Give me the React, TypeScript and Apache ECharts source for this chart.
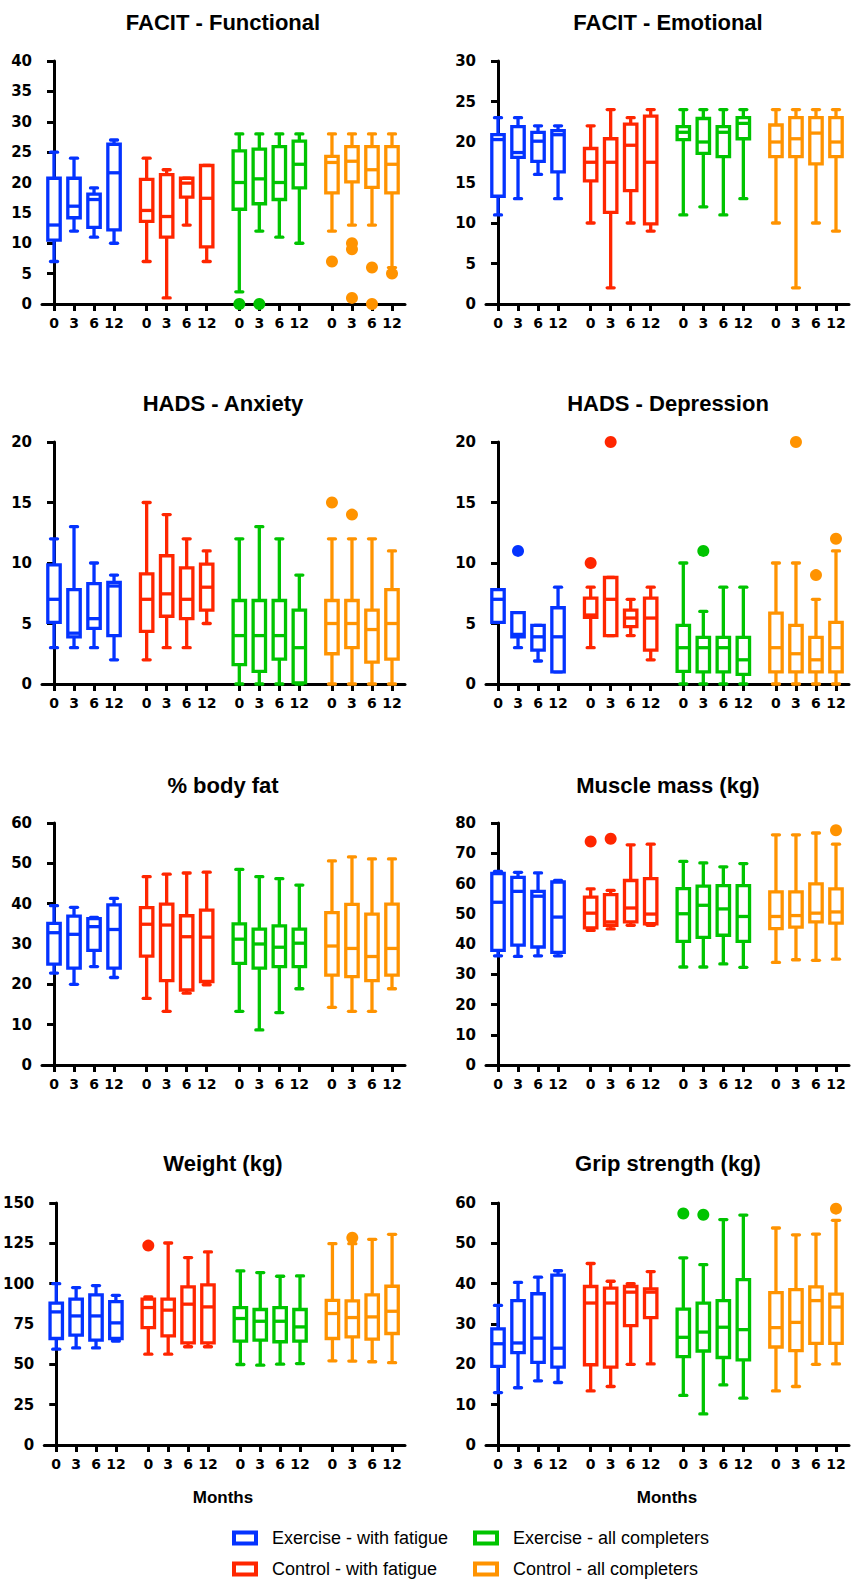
import React, { useEffect, useRef } from "react";
import * as echarts from "echarts";

// ---------- data ----------
const MONTHS = ["0", "3", "6", "12"];
const GROUPS = [
  "Exercise - with fatigue",
  "Control - with fatigue",
  "Exercise - all completers",
  "Control - all completers",
];
const COLORS = ["#0433ff", "#ff2600", "#00c400", "#ff9300"];

// each box: [min, q1, median, q3, max]; rows = groups, columns = months
const facitFunctional = [
  [[7, 10.5, 13, 20.7, 25], [12, 14.2, 16.1, 20.7, 24], [11, 12.6, 17.2, 18.1, 19.1], [10, 12.2, 21.6, 26.3, 27]],
  [[7, 13.6, 15.4, 20.5, 24], [1, 11, 14.4, 21.3, 22.1], [13, 17.6, 19.9, 20.7, 20.7], [7, 9.4, 17.4, 22.8, 22.8]],
  [[2, 15.6, 20, 25.2, 28], [12, 16.5, 20.6, 25.5, 28], [11, 17.2, 20, 25.9, 28], [10, 19.1, 23, 26.8, 28]],
  [[12, 18.3, 23.3, 24.3, 28], [13, 20.1, 23.5, 25.9, 28], [13, 19.2, 22.1, 25.9, 28], [6, 18.3, 23, 25.9, 28]],
];
// outliers: [group, month index, value]
const facitFunctionalOut = [[2, 0, 0], [2, 1, 0], [3, 0, 7], [3, 1, 10], [3, 1, 9], [3, 1, 1], [3, 2, 6], [3, 2, 0], [3, 3, 5]];

const facitEmotional = [
  [[11, 13.3, 20.3, 20.9, 23], [13, 18.1, 18.7, 21.9, 23], [16, 17.6, 20.1, 21.2, 22], [13, 16.3, 20.9, 21.4, 22]],
  [[10, 15.2, 17.5, 19.2, 22], [2, 11.3, 17.5, 20.4, 24], [10, 14, 19.6, 22.2, 23], [9, 9.9, 17.5, 23.2, 24]],
  [[11, 20.3, 21.2, 21.9, 24], [12, 18.6, 20, 22.9, 24], [11, 18.2, 21.2, 21.9, 24], [13, 20.4, 22.3, 23, 24]],
  [[10, 18.2, 20, 22.1, 24], [2, 18.2, 20.4, 23, 24], [10, 17.3, 21.1, 23, 24], [9, 18.2, 20, 23, 24]],
];
const facitEmotionalOut: number[][] = [];

const hadsAnxiety = [
  [[3, 5.1, 7, 9.85, 12], [3, 3.9, 4.2, 7.8, 13], [3, 4.6, 5.4, 8.3, 10], [2, 4, 8.1, 8.4, 9]],
  [[2, 4.35, 7, 9.1, 15], [3, 5.6, 7.45, 10.6, 14], [3, 5.4, 7, 9.6, 12], [5, 6.1, 8, 9.9, 11]],
  [[0, 1.6, 4, 6.9, 12], [0, 1.05, 4, 6.9, 13], [0, 2.06, 4, 6.9, 12], [0, 0.1, 3, 6.1, 9]],
  [[0, 2.5, 5, 6.9, 12], [0, 3, 5, 6.9, 12], [0, 1.8, 4.5, 6.1, 12], [0, 2.06, 5, 7.8, 11]],
];
const hadsAnxietyOut = [[3, 0, 15], [3, 1, 14]];

const hadsDepression = [
  [[5.1, 5.1, 7, 7.8, 7.8], [3, 3.9, 4.1, 5.9, 5.9], [1.9, 2.8, 3.9, 4.85, 4.85], [1, 1, 3.9, 6.3, 8]],
  [[3, 5.5, 5.7, 7.1, 8], [4, 4, 7, 8.8, 8.8], [4, 4.75, 5.45, 6.1, 7], [2, 2.8, 5.45, 7.1, 8]],
  [[0, 1.05, 3, 4.85, 10], [0, 1, 3, 3.85, 6], [0, 1, 3, 3.85, 8], [0, 0.8, 2, 3.85, 8]],
  [[0, 1, 3, 5.85, 10], [0, 1, 2.5, 4.85, 10], [0, 1, 2, 3.85, 7], [0, 1, 3, 5.1, 11]],
];
const hadsDepressionOut = [[0, 1, 11], [1, 0, 10], [1, 1, 20], [2, 1, 11], [3, 1, 20], [3, 2, 9], [3, 3, 12]];

const bodyFat = [
  [[22.8, 25, 32.8, 35.1, 39.5], [20, 24, 32.4, 36.9, 39.1], [24.4, 28.4, 34.3, 36.3, 36.6], [21.7, 24, 33.6, 39.7, 41.3]],
  [[16.5, 27, 34.9, 39, 46.7], [13.3, 20.9, 34.7, 39.9, 47.3], [17.8, 18.6, 31.8, 37, 47.6], [19.9, 20.7, 31.7, 38.4, 47.8]],
  [[13.3, 25.2, 31.2, 35, 48.5], [8.7, 24, 30, 33.7, 46.7], [13, 24.4, 29.2, 34.5, 46.2], [18.9, 24.4, 30.2, 33.7, 44.6]],
  [[14.3, 22.3, 29.5, 37.8, 50.6], [13.3, 21.9, 28.9, 39.8, 51.6], [13.3, 20.9, 26.9, 37.4, 51.1], [18.9, 22.3, 28.9, 39.9, 51.1]],
];
const bodyFatOut: number[][] = [];

const muscleMass = [
  [[36.1, 37.9, 53.8, 63.3, 64], [35.9, 39.6, 57.4, 62, 63.7], [36.1, 39, 55.8, 57.4, 63.5], [36.1, 37.2, 48.9, 60.5, 61]],
  [[44.5, 45.3, 50.2, 55.5, 58.2], [45, 46.2, 47.3, 56.3, 57.7], [46.2, 47.3, 51.9, 61, 72.8], [46.2, 46.7, 49.9, 61.6, 73]],
  [[32.4, 40.9, 50, 58.3, 67.3], [32.4, 42.2, 52.8, 59.1, 66.8], [33.4, 42.9, 51.6, 59.3, 65.5], [32.3, 40.9, 49.1, 59.3, 66.6]],
  [[33.9, 45.1, 49.1, 57.2, 76.1], [34.8, 45.6, 49.4, 57.2, 76.1], [34.6, 47.3, 50.2, 59.9, 76.7], [35, 46.9, 50.6, 58.2, 73]],
];
const muscleMassOut = [[1, 0, 73.9], [1, 1, 74.8], [3, 3, 77.6]];

const weight = [
  [[59.4, 66, 82.5, 87.9, 100], [60.2, 68.1, 80, 90.4, 97.6], [60.2, 65, 80, 93, 98.8], [64.4, 66, 75.7, 88.9, 92.8]],
  [[56.3, 72.8, 85.2, 90.4, 91.8], [56.3, 67.7, 83.6, 90.4, 125.2], [60.9, 63.3, 87.3, 98, 116.2], [60.9, 63.3, 85.6, 99.2, 119.7]],
  [[49.9, 64.4, 78.4, 85.2, 107.9], [49.5, 65, 76.7, 84, 106.9], [50.1, 64, 76.7, 85.2, 104.6], [50.5, 64.4, 73.2, 84, 104.8]],
  [[52.2, 66, 81.5, 89.7, 124.8], [52, 67, 79, 89.3, 124.8], [51.6, 65.6, 79.4, 93, 127.5], [51, 69.1, 82.9, 98.4, 130.6]],
];
const weightOut = [[1, 0, 123.6], [3, 1, 128.5]];

const gripStrength = [
  [[13, 19.5, 25.1, 28.8, 34.6], [14.2, 22.9, 25.3, 35.8, 40.3], [15.9, 20.5, 26.5, 37.5, 41.6], [15.5, 19.3, 24, 42.1, 43.2]],
  [[13.4, 19.9, 35.2, 39.3, 45], [14.5, 19.3, 35.2, 38.9, 40.6], [20, 29.6, 37.9, 39.3, 40], [20.1, 31.6, 37.9, 38.7, 43]],
  [[12.3, 21.9, 26.7, 33.7, 46.4], [7.7, 23.3, 28, 35.2, 44.7], [14.9, 21.7, 29.2, 35.8, 55.9], [11.6, 21.1, 28.6, 41, 57]],
  [[13.4, 24.3, 29.1, 37.8, 53.8], [14.5, 23.4, 30.4, 38.5, 52.1], [20, 25.2, 35.8, 39.2, 52.3], [20.1, 25.2, 34.2, 37.4, 55.7]],
];
const gripStrengthOut = [[2, 0, 57.4], [2, 1, 57.1], [3, 3, 58.6]];

const PANELS = [
  { title: "FACIT - Functional", max: 40, interval: 5, boxes: facitFunctional, out: facitFunctionalOut },
  { title: "FACIT - Emotional", max: 30, interval: 5, boxes: facitEmotional, out: facitEmotionalOut },
  { title: "HADS - Anxiety", max: 20, interval: 5, boxes: hadsAnxiety, out: hadsAnxietyOut },
  { title: "HADS - Depression", max: 20, interval: 5, boxes: hadsDepression, out: hadsDepressionOut },
  { title: "% body fat", max: 60, interval: 10, boxes: bodyFat, out: bodyFatOut },
  { title: "Muscle mass (kg)", max: 80, interval: 10, boxes: muscleMass, out: muscleMassOut },
  { title: "Weight (kg)", max: 150, interval: 25, boxes: weight, out: weightOut },
  { title: "Grip strength (kg)", max: 60, interval: 10, boxes: gripStrength, out: gripStrengthOut },
];

// ---------- layout ----------
const ROW_TOP = [61, 442, 823, 1203];
const ROW_H = [243, 242, 242, 242];
const COL_LEFT = [42, 486];
const COL_W = 363;
const TITLE_Y = [22, 403, 785, 1163];
const TITLE_X = [223, 668];
const GROUP_STEP = 4.63;
const X_MIN = -0.6;
const X_MAX = 3 * GROUP_STEP + 3 + 0.65;
const XPOS: number[] = [];
for (let g = 0; g < 4; g++) for (let t = 0; t < 4; t++) XPOS.push(g * GROUP_STEP + t);

const SANS = '"Liberation Sans", Arial, sans-serif';
const TICKFONT = '"DejaVu Sans", sans-serif';

function monthLabel(v: number) {
  const i = XPOS.findIndex((p) => Math.abs(p - v) < 0.01);
  return i < 0 ? "" : MONTHS[i % 4];
}

function makeRender(color: string) {
  return (params: any, api: any) => {
    const x = api.value(0);
    const pt = (i: number) => api.coord([x, api.value(i)]);
    const lo = pt(1), q1 = pt(2), md = pt(3), q3 = pt(4), hi = pt(5);
    const cx = lo[0];
    const hw = 6.2;
    const cw = 3.5;
    const lw = 3.3;
    const ls = { stroke: color, lineWidth: lw, fill: "none" };
    const cap = { stroke: color, lineWidth: lw, lineCap: "round", fill: "none" };
    const children: any[] = [];
    children.push({ type: "line", shape: { x1: cx, y1: hi[1], x2: cx, y2: q3[1] }, style: ls });
    children.push({ type: "line", shape: { x1: cx, y1: q1[1], x2: cx, y2: lo[1] }, style: ls });
    children.push({ type: "line", shape: { x1: cx - cw, y1: hi[1], x2: cx + cw, y2: hi[1] }, style: cap });
    children.push({ type: "line", shape: { x1: cx - cw, y1: lo[1], x2: cx + cw, y2: lo[1] }, style: cap });
    children.push({
      type: "rect",
      shape: { x: cx - hw, y: q3[1], width: hw * 2, height: q1[1] - q3[1] },
      style: { stroke: color, lineWidth: lw, fill: "#fff" },
    });
    children.push({ type: "line", shape: { x1: cx - hw, y1: md[1], x2: cx + hw, y2: md[1] }, style: ls });
    return { type: "group", children };
  };
}

function buildOption() {
  const grid: any[] = [];
  const xAxis: any[] = [];
  const yAxis: any[] = [];
  const series: any[] = [];
  const graphic: any[] = [];

  PANELS.forEach((p, i) => {
    const row = Math.floor(i / 2);
    const col = i % 2;
    grid.push({ left: COL_LEFT[col], top: ROW_TOP[row], width: COL_W, height: ROW_H[row], containLabel: false });
    xAxis.push({
      gridIndex: i,
      type: "value",
      min: X_MIN,
      max: X_MAX,
      axisLine: { show: true, onZero: false, lineStyle: { color: "#000", width: 3 } },
      axisTick: { show: true, customValues: XPOS, length: 7, lineStyle: { color: "#000", width: 3 } },
      axisLabel: {
        show: true,
        customValues: XPOS,
        formatter: (v: number) => monthLabel(v),
        color: "#000",
        fontSize: 14,
        fontWeight: "bold",
        fontFamily: TICKFONT,
        margin: 12,
      },
      splitLine: { show: false },
    });
    yAxis.push({
      gridIndex: i,
      type: "value",
      min: 0,
      max: p.max,
      interval: p.interval,
      axisLine: { show: true, lineStyle: { color: "#000", width: 3 } },
      axisTick: { show: true, length: 7, lineStyle: { color: "#000", width: 3 } },
      axisLabel: { color: "#000", fontSize: 15, fontWeight: "bold", fontFamily: TICKFONT, margin: 10 },
      splitLine: { show: false },
    });
    p.boxes.forEach((groupBoxes, g) => {
      series.push({
        type: "custom",
        name: GROUPS[g],
        xAxisIndex: i,
        yAxisIndex: i,
        clip: false,
        renderItem: makeRender(COLORS[g]),
        encode: { x: 0, y: [1, 2, 3, 4, 5] },
        data: groupBoxes.map((b, t) => [g * GROUP_STEP + t, ...b]),
        z: 3,
      });
      const outs = p.out.filter((o) => o[0] === g).map((o) => [g * GROUP_STEP + o[1], o[2]]);
      if (outs.length) {
        series.push({
          type: "scatter",
          name: GROUPS[g] + " outliers",
          xAxisIndex: i,
          yAxisIndex: i,
          clip: false,
          symbol: "circle",
          symbolSize: 12,
          itemStyle: { color: COLORS[g], opacity: 1 },
          data: outs,
          z: 4,
        });
      }
    });
    graphic.push({
      type: "text",
      x: TITLE_X[col],
      y: TITLE_Y[row],
      style: {
        text: p.title,
        fill: "#000",
        fontSize: 22,
        fontWeight: "bold",
        fontFamily: SANS,
        align: "center",
        verticalAlign: "middle",
      },
    });
  });

  [223, 667].forEach((x) =>
    graphic.push({
      type: "text",
      x,
      y: 1497,
      style: { text: "Months", fill: "#000", fontSize: 17, fontWeight: "bold", fontFamily: SANS, align: "center", verticalAlign: "middle" },
    })
  );

  const legendPos = [
    [234, 1538],
    [234, 1569],
    [475, 1538],
    [475, 1569],
  ];
  GROUPS.forEach((name, g) => {
    const [lx, ly] = legendPos[g];
    graphic.push({
      type: "rect",
      shape: { x: lx, y: ly - 5.5, width: 22, height: 11 },
      style: { fill: "#fff", stroke: COLORS[g], lineWidth: 4 },
    });
    graphic.push({
      type: "text",
      x: lx + 38,
      y: ly,
      style: { text: name, fill: "#000", fontSize: 18, fontFamily: SANS, align: "left", verticalAlign: "middle" },
    });
  });

  return { animation: false, backgroundColor: "#fff", grid, xAxis, yAxis, series, graphic };
}

export default function App() {
  const ref = useRef<HTMLDivElement>(null);
  useEffect(() => {
    if (!ref.current) return;
    const chart = echarts.init(ref.current, undefined, { renderer: "svg" });
    chart.setOption(buildOption() as any);
    return () => chart.dispose();
  }, []);
  return <div ref={ref} style={{ position: "absolute", left: 0, top: 0, width: 851, height: 1581, background: "#fff" }} />;
}
